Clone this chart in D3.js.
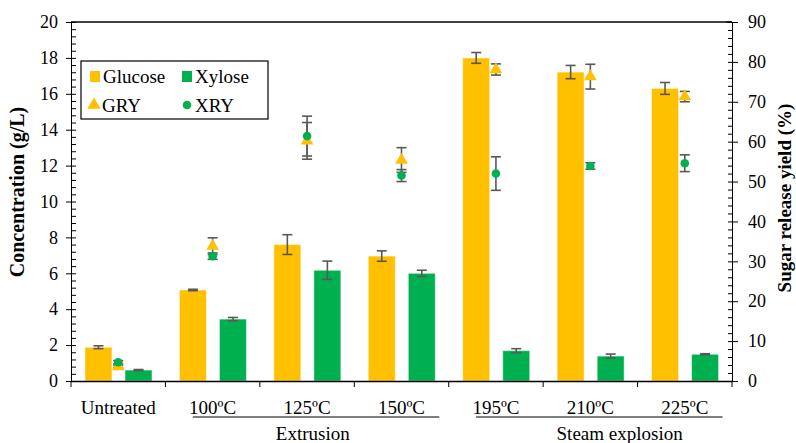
<!DOCTYPE html>
<html>
<head>
<meta charset="utf-8">
<script src="https://cdn.jsdelivr.net/npm/d3@7"></script>
<style>
  body { margin: 0; background: #fff; }
  svg text { font-family: "Liberation Serif", "Times New Roman", serif !important; fill: #000; }
</style>
</head>
<body>
<div id="chart"></div>
<script>
// categories and group labels
let categories = ["Untreated", "100ºC", "125ºC", "150ºC", "195ºC", "210ºC", "225ºC"];
let groups = [
    {name: "Extrusion", from: "100ºC", to: "150ºC", label: "125ºC", shift: 0.06},
    {name: "Steam explosion", from: "195ºC", to: "225ºC", label: "210ºC", shift: 0.31}
];

// concentrations (g/L) and their errors
let glucose    = [1.88, 5.07, 7.60, 6.96, 18.00, 17.21, 16.30];
let glucoseErr = [0.08, 0.04, 0.55, 0.29, 0.30, 0.37, 0.33];
let xylose     = [0.61, 3.45, 6.17, 6.00, 1.69, 1.39, 1.49];
let xyloseErr  = [0.03, 0.09, 0.51, 0.17, 0.11, 0.11, 0.03];

// sugar release yields (%) and their errors
let gry    = [3.6, 33.8, 60.2, 55.4, 78.1, 76.3, 71.3];
let gryErr = [0.3, 2.1, 4.6, 3.1, 1.4, 3.1, 1.3];
let xry    = [4.7, 31.3, 61.4, 51.5, 52.0, 53.9, 54.6];
let xryErr = [0.4, 0.8, 5.0, 1.5, 4.2, 0.8, 2.1];

let leftTicks = d3.range(0, 21, 2);
let rightTicks = d3.range(0, 91, 10);

let w = 796, h = 443;
let mLeft = 71, mRight = 732, mTop = 22, mBottom = 381;

let orange = "#FFC000", green = "#00B050", errColor = "#595959";
let serif = '"Liberation Serif", "Times New Roman", serif';

let svg = d3.select("#chart").append("svg")
    .attr("width", w)
    .attr("height", h);

let x = d3.scaleBand().domain(categories).range([mLeft, mRight]).padding(0);
let y = d3.scaleLinear().domain([0, 20]).range([mBottom, mTop]);
let y2 = d3.scaleLinear().domain([0, 90]).range([mBottom, mTop]);
let bw = x.bandwidth();

// bars
let barW = bw * 0.286;
function drawBars(vals, errs, offset, color) {
    let g = svg.append("g");
    g.selectAll("rect")
        .data(vals)
        .enter()
        .append("rect")
        .attr("x", (d, i) => x(categories[i]) + bw * offset)
        .attr("y", d => y(d))
        .attr("width", barW)
        .attr("height", d => y(0) - y(d))
        .attr("fill", color)
        .attr("stroke", "#fff")
        .attr("stroke-opacity", 0.5)
        .attr("stroke-width", 1);
    drawErr(vals.map((d, i) => x(categories[i]) + bw * offset + barW / 2), vals, errs, y);
}

function drawErr(xs, vals, errs, scale) {
    let g = svg.append("g")
        .attr("stroke", errColor)
        .attr("stroke-width", 1.6);
    vals.forEach(function (v, i) {
        let cx = xs[i];
        let y0 = scale(v + errs[i]), y1 = scale(v - errs[i]);
        g.append("line").attr("x1", cx).attr("x2", cx).attr("y1", y0).attr("y2", y1);
        g.append("line").attr("x1", cx - 5).attr("x2", cx + 5).attr("y1", y0).attr("y2", y0);
        g.append("line").attr("x1", cx - 5).attr("x2", cx + 5).attr("y1", y1).attr("y2", y1);
    });
}

drawBars(glucose, glucoseErr, 0.148, orange);
drawBars(xylose, xyloseErr, 0.572, green);

// yields (right axis)
let centers = categories.map(c => x(c) + bw / 2);
drawErr(centers, gry, gryErr, y2);
drawErr(centers, xry, xryErr, y2);

let tri = d3.symbol().type(d3.symbolTriangle).size(70);
svg.append("g").selectAll("path")
    .data(gry)
    .enter()
    .append("path")
    .attr("d", tri)
    .attr("transform", (d, i) => "translate(" + centers[i] + "," + y2(d) + ")")
    .attr("fill", orange);

svg.append("g").selectAll("circle")
    .data(xry)
    .enter()
    .append("circle")
    .attr("cx", (d, i) => centers[i])
    .attr("cy", d => y2(d))
    .attr("r", 4.3)
    .attr("fill", green);

// left axis: major ticks out, minor ticks in
let fs = "18px";
svg.append("g")
    .attr("transform", "translate(" + mLeft + ",0)")
    .call(d3.axisRight(y).tickValues(d3.range(0, 20.01, 0.4)).tickSize(5).tickFormat(""))
    .call(g => g.select(".domain").remove());
let yAxis = svg.append("g")
    .attr("transform", "translate(" + mLeft + ",0)")
    .attr("font-family", serif)
    .call(d3.axisLeft(y).tickValues(leftTicks).tickSize(5).tickPadding(8).tickSizeOuter(0));
yAxis.selectAll("text").style("font-size", fs).style("font-family", serif);

// right axis
svg.append("g")
    .attr("transform", "translate(" + mRight + ",0)")
    .call(d3.axisLeft(y2).tickValues(d3.range(0, 90.01, 2)).tickSize(4).tickFormat(""))
    .call(g => g.select(".domain").remove());
let y2Axis = svg.append("g")
    .attr("transform", "translate(" + mRight + ",0)")
    .call(d3.axisRight(y2).tickValues(rightTicks).tickSize(6).tickPadding(10).tickSizeOuter(0));
y2Axis.selectAll("text").style("font-size", fs).style("font-family", serif);
svg.append("line")
    .attr("x1", mRight - 6).attr("x2", mRight)
    .attr("y1", mTop).attr("y2", mTop)
    .attr("stroke", "#000");

// top border
svg.append("line")
    .attr("x1", mLeft).attr("x2", mRight)
    .attr("y1", mTop).attr("y2", mTop)
    .attr("stroke", "#000")
    .attr("stroke-width", 1.5);

// bottom axis
let xAxis = svg.append("g")
    .attr("transform", "translate(0," + mBottom + ")")
    .call(d3.axisBottom(x).tickSize(0).tickPadding(20).tickSizeOuter(0));
xAxis.select(".domain").attr("stroke-width", 1.5);
xAxis.selectAll("text").style("font-size", "19px").style("font-family", serif);
svg.append("g").selectAll("line")
    .data(categories.concat(["end"]))
    .enter()
    .append("line")
    .attr("x1", (d, i) => mLeft + i * bw)
    .attr("x2", (d, i) => mLeft + i * bw)
    .attr("y1", mBottom)
    .attr("y2", mBottom + 6)
    .attr("stroke", "#000");

// group labels
groups.forEach(function (gr) {
    let x1 = x(gr.from) + bw * 0.29;
    let x2 = x(gr.to) + bw * 0.9;
    svg.append("line")
        .attr("x1", x1).attr("x2", x2)
        .attr("y1", 417).attr("y2", 417)
        .attr("stroke", "#000")
        .attr("stroke-width", 1.2);
    svg.append("text")
        .attr("x", x(gr.label) + bw / 2 + bw * gr.shift)
        .attr("y", 440)
        .attr("text-anchor", "middle")
        .style("font-size", "19px")
        .style("font-family", serif)
        .text(gr.name);
});

// axis titles
svg.append("text")
    .attr("transform", "translate(24,192) rotate(-90)")
    .attr("text-anchor", "middle")
    .style("font-size", "20px")
    .style("font-weight", "bold")
    .style("font-family", serif)
    .text("Concentration (g/L)");
svg.append("text")
    .attr("transform", "translate(791,198) rotate(-90)")
    .attr("text-anchor", "middle")
    .style("font-size", "19px")
    .style("font-weight", "bold")
    .style("font-family", serif)
    .text("Sugar release yield (%)");

// legend
let legend = svg.append("g");
legend.append("rect")
    .attr("x", 81).attr("y", 61)
    .attr("width", 187).attr("height", 58)
    .attr("fill", "#fff")
    .attr("stroke", "#000")
    .attr("stroke-width", 1.2);
let items = [
    {name: "Glucose", color: orange, kind: "rect", lx: 90, ly: 76},
    {name: "Xylose", color: green, kind: "rect", lx: 182, ly: 76},
    {name: "GRY", color: orange, kind: "tri", lx: 89, ly: 105},
    {name: "XRY", color: green, kind: "circle", lx: 182, ly: 105}
];
items.forEach(function (it) {
    if (it.kind == "rect") {
        legend.append("rect")
            .attr("x", it.lx).attr("y", it.ly - 5)
            .attr("width", 10).attr("height", 11)
            .attr("fill", it.color);
    } else if (it.kind == "tri") {
        legend.append("path")
            .attr("d", d3.symbol().type(d3.symbolTriangle).size(75))
            .attr("transform", "translate(" + (it.lx + 5) + "," + it.ly + ")")
            .attr("fill", it.color);
    } else {
        legend.append("circle")
            .attr("cx", it.lx + 5).attr("cy", it.ly)
            .attr("r", 4.3)
            .attr("fill", it.color);
    }
    legend.append("text")
        .attr("x", it.lx + 13)
        .attr("y", it.ly + 6.5)
        .style("font-size", "19px")
        .style("font-family", serif)
        .text(it.name);
});
</script>
</body>
</html>
